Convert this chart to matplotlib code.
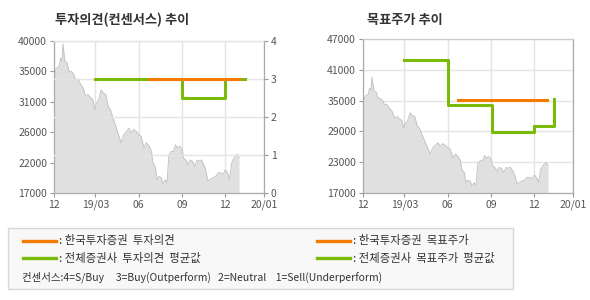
import numpy as np
import matplotlib
matplotlib.use("Agg")
import matplotlib.pyplot as plt
from matplotlib.patches import Rectangle
from matplotlib.lines import Line2D

plt.rcParams["font.family"] = ["Noto Sans CJK KR", "DejaVu Sans"]

# 날짜 축: 2018/12 시작 기준 경과일
tick_days = [0, 88, 180, 272, 364, 446]
tick_labels = ["12", "19/03", "06", "09", "12", "20/01"]

# 주가 (읽어낸 값)
price_days = [0, 5, 11, 14, 17, 19, 23, 28, 32, 37, 42, 46, 51, 57, 62, 67, 72, 77,
              83, 86, 90, 95, 100, 105, 110, 115, 120, 125, 131, 137, 143, 148, 154,
              159, 164, 169, 175, 180, 185, 191, 196, 202, 207, 210, 215, 219, 223,
              228, 231, 236, 240, 244, 249, 254, 258, 262, 267, 272, 275, 280, 285,
              289, 294, 299, 304, 308, 313, 318, 322, 327, 332, 338, 343, 348, 353,
              359, 364, 370, 373, 377, 380, 384, 389, 393]
prices = [34650, 35900, 36170, 37430, 36900, 39550, 36900, 36670, 35400, 35400,
          34900, 34150, 34250, 33400, 32900, 31600, 31900, 31500, 31100, 29600,
          30600, 31100, 32600, 32100, 31900, 30100, 29600, 28400, 27100, 25800,
          24600, 25800, 26300, 26800, 26100, 26600, 26300, 25800, 25600, 23800,
          24600, 24100, 23300, 21500, 21000, 19000, 19500, 19300, 18300, 19000,
          18500, 22800, 23300, 23300, 24300, 23800, 24100, 23600, 22300, 22000,
          21300, 22000, 21800, 21000, 22000, 21800, 22000, 21300, 20500, 18800,
          19100, 19300, 19500, 20000, 20100, 19800, 20500, 19800, 19000, 21500,
          22000, 22500, 22900, 22400]

# 투자의견
op_ko_days = [201, 393]
op_ko = [3, 3]
op_avg_days = [88, 272, 364, 406]
op_avg = [3, 2.5, 3, 3]

# 목표주가
tp_ko_days = [202, 391]
tp_ko = [35200, 35200]
tp_avg_days = [88, 180, 274, 364, 405]
tp_avg = [43000, 34200, 28800, 30100, 35300]

left_price_ticks = ["17000", "22000", "26000", "31000", "35000", "40000"]
right_price_ticks = [17000, 23000, 29000, 35000, 41000, 47000]

ORANGE = "#f47a00"
GREEN = "#7cba0a"
FILL = "#e0e0e0"
EDGE = "#c4c4c4"
GRID = "#e4e4e4"
TXT = "#555555"


def style_axes(ax):
    ax.set_xlim(0, 446)
    ax.set_xticks(tick_days)
    ax.set_xticklabels(tick_labels)
    ax.grid(True, axis="x", color=GRID, linewidth=1)
    ax.tick_params(axis="both", labelsize=7.5, colors="#999999", labelcolor=TXT,
                   length=3, width=0.8, pad=2)
    for s in ax.spines.values():
        s.set_color("#aaaaaa")
        s.set_linewidth(0.9)
    ax.spines["top"].set_color("#cccccc")
    ax.set_axisbelow(True)


def draw_price(ax):
    ax.fill_between(price_days, prices, 0, color=FILL, linewidth=0, zorder=1)
    ax.plot(price_days, prices, color=EDGE, linewidth=0.7, zorder=2)


fig = plt.figure(figsize=(5.9, 3.0), dpi=100)

# 왼쪽: 투자의견
ax1 = fig.add_axes([54 / 590, 1 - 193 / 300, 210 / 590, 152 / 300])
draw_price(ax1)
ax1.set_ylim(17000, 40000)
ax1.set_yticks(np.linspace(17000, 40000, 6))
ax1.set_yticklabels(left_price_ticks)
style_axes(ax1)

ax1r = ax1.twinx()
ax1r.set_ylim(0, 4)
ax1r.set_yticks([0, 1, 2, 3, 4])
ax1r.grid(True, axis="y", color=GRID, linewidth=1)
ax1r.tick_params(axis="y", labelsize=7.5, colors="#999999", labelcolor=TXT,
                 length=3, width=0.8, pad=2)
for s in ax1r.spines.values():
    s.set_visible(False)
ax1r.step(op_avg_days, op_avg, where="post", color=GREEN, linewidth=2.2, zorder=3)
ax1r.plot(op_ko_days, op_ko, color=ORANGE, linewidth=2.2, zorder=4)
ax1.spines["right"].set_visible(True)

fig.text(55 / 590, 1 - 20 / 300, "투자의견(컨센서스) 추이", fontsize=9.5,
         fontweight="bold", color="#333333", va="center")

# 오른쪽: 목표주가
ax2 = fig.add_axes([363 / 590, 1 - 193 / 300, 210 / 590, 154 / 300])
draw_price(ax2)
ax2.set_ylim(17000, 47000)
ax2.set_yticks(right_price_ticks)
ax2.grid(True, axis="y", color=GRID, linewidth=1)
style_axes(ax2)
ax2.step(tp_avg_days, tp_avg, where="post", color=GREEN, linewidth=2.2, zorder=3)
ax2.plot(tp_ko_days, tp_ko, color=ORANGE, linewidth=2.2, zorder=4)

fig.text(367 / 590, 1 - 20 / 300, "목표주가 추이", fontsize=9.5,
         fontweight="bold", color="#333333", va="center")

# 범례 박스
fig.patches.append(Rectangle((8 / 590, 1 - 289 / 300), 505 / 590, 61 / 300,
                             transform=fig.transFigure, facecolor="#f8f8f8",
                             edgecolor="#d8d8d8", linewidth=1))

legend_rows = [
    (23, 240.5, ORANGE, ": 한국투자증권  투자의견"),
    (23, 258, GREEN, ": 전체증권사  투자의견  평균값"),
    (317, 240.5, ORANGE, ": 한국투자증권  목표주가"),
    (317, 258, GREEN, ": 전체증권사  목표주가  평균값"),
]
for x0, y0, col, label in legend_rows:
    fig.lines.append(Line2D([x0 / 590, (x0 + 33) / 590], [1 - y0 / 300] * 2,
                            transform=fig.transFigure, color=col, linewidth=2.4))
    fig.text((x0 + 36) / 590, 1 - y0 / 300, label, fontsize=8.2, color="#333333",
             va="center")

fig.text(22 / 590, 1 - 277 / 300,
         "컨센서스:4=S/Buy     3=Buy(Outperform)   2=Neutral    1=Sell(Underperform)",
         fontsize=7.5, color="#333333", va="center")

fig.savefig("out.png", dpi=100)
